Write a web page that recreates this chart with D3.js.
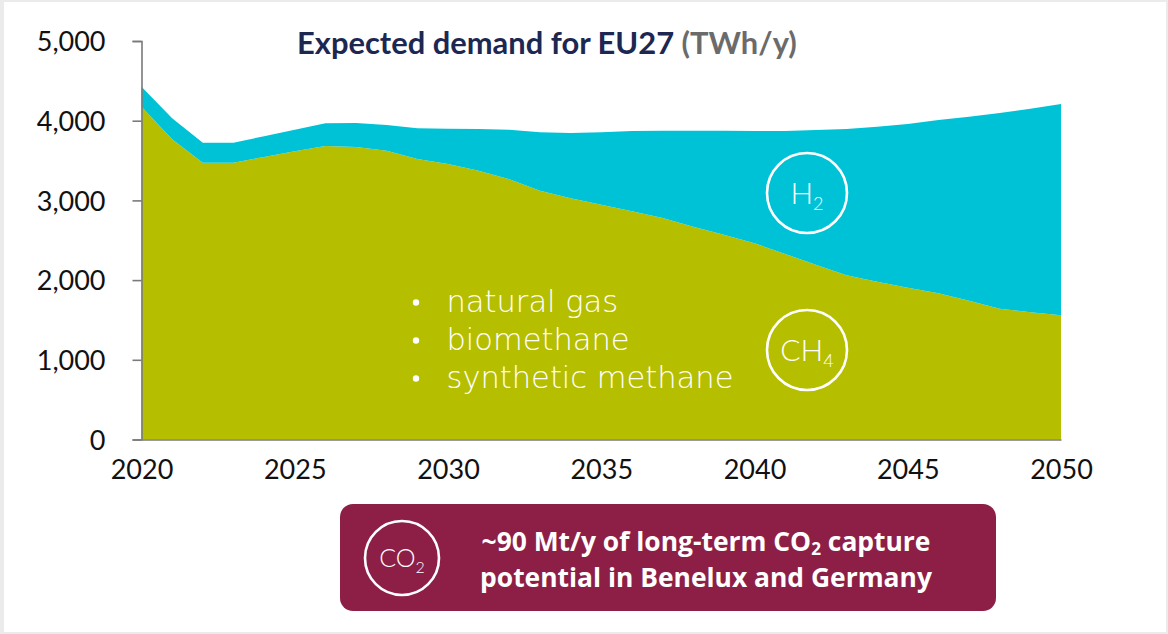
<!DOCTYPE html>
<html>
<head>
<meta charset="utf-8">
<script src="https://cdn.jsdelivr.net/npm/d3@7/dist/d3.min.js"></script>
<style>
  html, body { margin: 0; padding: 0; background: #ebebeb; }
  svg { display: block; }
</style>
</head>
<body>
<svg id="chart" width="1168" height="634"></svg>
<script>
// ---- data (TWh/y) ----
const years = [2020,2021,2022,2023,2024,2025,2026,2027,2028,2029,2030,2031,2032,2033,2034,2035,2036,2037,2038,2039,2040,2041,2042,2043,2044,2045,2046,2047,2048,2049,2050];
const ch4 = [4176,3767,3473,3473,3545,3616,3683,3670,3624,3519,3457,3373,3264,3122,3026,2946,2863,2779,2670,2570,2462,2328,2194,2060,1980,1905,1834,1742,1641,1596,1558];
const h2  = [251,263,251,251,261,272,284,301,322,386,443,523,624,733,820,909,1008,1096,1205,1305,1409,1543,1689,1836,1945,2054,2175,2308,2456,2555,2652];
const yTicks = [0,1000,2000,3000,4000,5000];
const xTicks = [2020,2025,2030,2035,2040,2045,2050];
const seriesKeys = ["ch4","h2"];
const seriesColors = {ch4: "#b6be00", h2: "#00c2d6"};
const titleMain = "Expected demand for EU27";
const titleUnit = "(TWh/y)";
const bulletItems = ["natural gas","biomethane","synthetic methane"];
const boxLine1 = ["~90 Mt/y of long-term CO", "2", " capture"];
const boxLine2 = "potential in Benelux and Germany";

const svg = d3.select("#chart");
const FONT = "'Lato', 'DejaVu Sans', sans-serif";

// card background
svg.append("rect").attr("x",0).attr("y",0).attr("width",1168).attr("height",634).attr("fill","#ebebeb");
svg.append("rect").attr("x",4).attr("y",2).attr("width",1162).attr("height",630).attr("fill","#ffffff");

const x = d3.scaleLinear().domain([2020,2050]).range([141.5,1061]);
const y = d3.scaleLinear().domain([0,5000]).range([439.5,41]);

const rows = years.map((yr,i)=>({year: yr, ch4: ch4[i], h2: h2[i]}));
const stacked = d3.stack().keys(seriesKeys)(rows);
const area = d3.area()
  .x(d => x(d.data.year))
  .y0(d => y(d[0]))
  .y1(d => y(d[1]));

svg.append("g").selectAll("path").data(stacked).join("path")
  .attr("d", area)
  .attr("fill", d => seriesColors[d.key]);

// helper to fit text to a target width by font size
function fit(sel, target) {
  const w = sel.node().getComputedTextLength();
  const fs = parseFloat(sel.attr("font-size"));
  const nfs = fs * target / w;
  sel.attr("font-size", nfs.toFixed(2));
  return nfs;
}

// y axis
const yAxis = svg.append("g").attr("transform", `translate(${x(2020)},0)`)
  .call(d3.axisLeft(y).tickValues(yTicks).tickSize(9).tickPadding(27).tickFormat(d3.format(",")));
yAxis.select(".domain").attr("stroke","#7a7a7a").attr("stroke-width",1.6);
yAxis.selectAll(".tick line").attr("stroke","#7a7a7a").attr("stroke-width",1.6);
yAxis.selectAll(".tick text").attr("font-family",FONT).attr("font-size",27).attr("fill","#111").attr("dy","0.36em");

// x axis
const xAxis = svg.append("g").attr("transform", `translate(0,${y(0)})`)
  .call(d3.axisBottom(x).tickValues(xTicks).tickSize(0).tickPadding(20).tickFormat(d3.format("d")));
xAxis.select(".domain").attr("stroke","#7a7a7a").attr("stroke-width",1.6);
xAxis.selectAll(".tick text").attr("font-family",FONT).attr("font-size",27).attr("fill","#111");

// title
const title = svg.append("text").attr("x",297).attr("y",54)
  .attr("font-family",FONT).attr("font-weight","bold").attr("font-size",24);
title.append("tspan").attr("fill","#1c2752").text(titleMain + " ");
title.append("tspan").attr("fill","#6b6b6b").text(titleUnit);
fit(title, 500);

// bullets
const BULLETFONT = "'DejaVu Sans', 'Lato', sans-serif";
const bl = svg.append("g");
const bTexts = bulletItems.map((t,i) => {
  const by = 311.5 + i*38;
  bl.append("circle").attr("cx",416).attr("cy",by-9).attr("r",3.2).attr("fill","#fff");
  return bl.append("text").attr("x",446.5).attr("y",by)
    .attr("font-family",BULLETFONT).attr("font-weight",200).attr("font-size",26).attr("fill","#fff").text(t);
});
const bfs = fit(bTexts[2], 287);
bTexts.forEach(t => t.attr("font-size", bfs.toFixed(2)));

// circles with formulas
function formula(cx, cy, r, main, sub, fs, subfs) {
  const g = svg.append("g");
  g.append("circle").attr("cx",cx).attr("cy",cy).attr("r",r).attr("fill","none").attr("stroke","#fff").attr("stroke-width",2.6);
  const t = g.append("text").attr("x",cx).attr("y",cy + fs*0.36).attr("text-anchor","middle")
    .attr("font-family",FONT).attr("font-weight",300).attr("font-size",fs).attr("fill","#fff");
  t.append("tspan").text(main);
  t.append("tspan").attr("font-size",subfs).attr("dy",fs*0.22).text(sub);
  return g;
}
formula(807, 193, 40, "H", "2", 30, 18);
formula(807, 350, 40, "CH", "4", 30, 18);

// bottom box
svg.append("rect").attr("x",340).attr("y",504).attr("width",656).attr("height",107).attr("rx",13)
  .attr("fill","#8d1f47");
formula(402, 558, 37, "CO", "2", 25, 16);

const BOXFONT = "'Open Sans', sans-serif";
const l1 = svg.append("text").attr("x",706).attr("y",551).attr("text-anchor","middle")
  .attr("font-family",BOXFONT).attr("font-weight","bold").attr("font-size",24).attr("fill","#fff");
l1.append("tspan").text(boxLine1[0]);
l1.append("tspan").attr("font-size",16).attr("dy",4).text(boxLine1[1]);
l1.append("tspan").attr("dy",-4).text(boxLine1[2]);
const l2 = svg.append("text").attr("x",706).attr("y",587).attr("text-anchor","middle")
  .attr("font-family",BOXFONT).attr("font-weight","bold").attr("font-size",24).attr("fill","#fff")
  .text(boxLine2);
const s2 = fit(l2, 452);
l1.attr("font-size", s2.toFixed(2));
l1.select("tspan:nth-child(2)").attr("font-size", (s2*0.65).toFixed(2));
</script>
</body>
</html>
